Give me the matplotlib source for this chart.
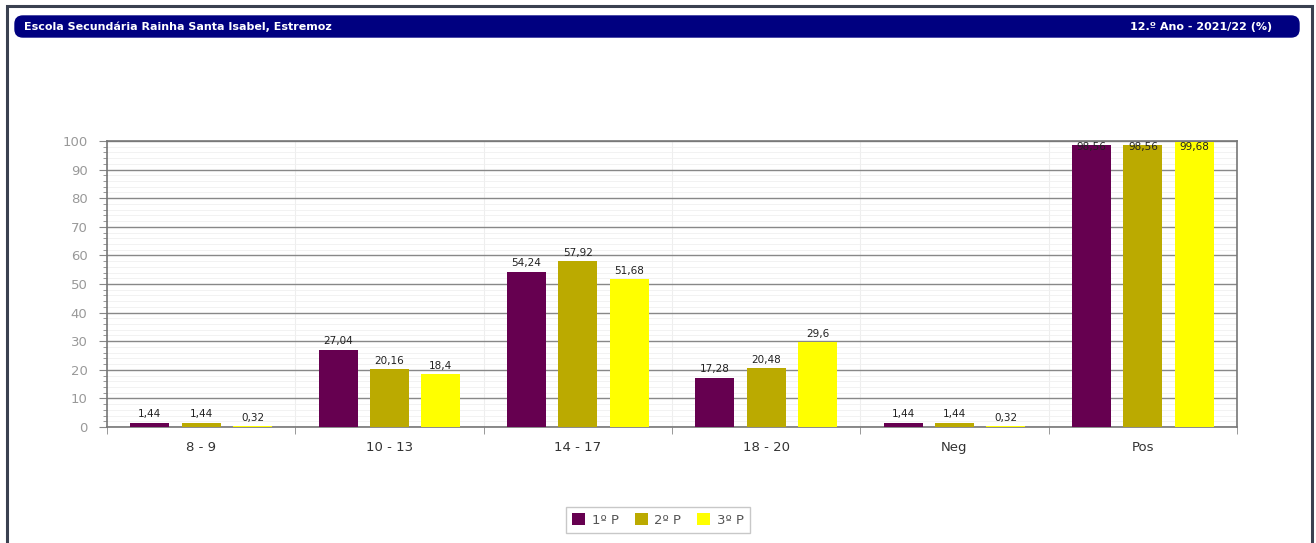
import matplotlib
matplotlib.use("Agg")
import matplotlib.pyplot as plt
import numpy as np
from matplotlib.patches import Rectangle, FancyBboxPatch
from matplotlib.ticker import MultipleLocator

categories = ["8 - 9", "10 - 13", "14 - 17", "18 - 20", "Neg", "Pos"]
series_names = ["1º P", "2º P", "3º P"]
p1 = [1.44, 27.04, 54.24, 17.28, 1.44, 98.56]
p2 = [1.44, 20.16, 57.92, 20.48, 1.44, 98.56]
p3 = [0.32, 18.4, 51.68, 29.6, 0.32, 99.68]
colors = ["#660050", "#bbaa00", "#ffff00"]
title_left = "Escola Secundária Rainha Santa Isabel, Estremoz"
title_right = "12.º Ano - 2021/22 (%)"

fig = plt.figure(figsize=(13.16, 5.43), dpi=100)
W, H = 1316, 543

def fx(x): return x / W
def fy(y): return 1 - y / H

# outer frame
fig.patches.append(Rectangle((fx(7), fy(560)), fx(1312) - fx(7), fy(6) - fy(560),
                             transform=fig.transFigure, fill=False,
                             edgecolor="#3a4150", linewidth=2.2))
# title bar
fig.patches.append(FancyBboxPatch((fx(15), fy(37)), fx(1299) - fx(15), fy(16) - fy(37),
                                  boxstyle="round,pad=0,rounding_size=0.006",
                                  transform=fig.transFigure, facecolor="#000080",
                                  edgecolor="#000080", mutation_aspect=2.4))
fig.text(fx(24), fy(27), title_left, color="white", fontsize=8, fontweight="bold",
         va="center", ha="left")
fig.text(fx(1272), fy(27), title_right, color="white", fontsize=8, fontweight="bold",
         va="center", ha="right")

ax = fig.add_axes([fx(107), fy(427), fx(1237) - fx(107), fy(141) - fy(427)])
x = np.arange(len(categories))
offs = [-0.273, 0, 0.273]
bw = 0.207
series = [p1, p2, p3]
for s, o, c, n in zip(series, offs, colors, series_names):
    ax.bar(x + o, s, bw, color=c, label=n, zorder=3)
    for xi, v in zip(x + o, s):
        lab = f"{v:g}".replace(".", ",")
        if v > 95:
            ax.annotate(lab, xy=(xi, 100), xytext=(0, -0.5), textcoords="offset points",
                        ha="center", va="top", fontsize=7.5, color="#222222", zorder=4)
        else:
            ax.annotate(lab, xy=(xi, v), xytext=(0, 2.5), textcoords="offset points",
                        ha="center", va="bottom", fontsize=7.5, color="#222222", zorder=4)

ax.set_xlim(-0.5, len(categories) - 0.5)
ax.set_ylim(0, 100)
ax.yaxis.set_major_locator(MultipleLocator(10))
ax.yaxis.set_minor_locator(MultipleLocator(2))
ax.set_xticks(x)
ax.set_xticklabels(categories, fontsize=9.5, color="#333333")
ax.set_xticks(np.arange(-0.5, len(categories), 1), minor=True)
ax.tick_params(axis="x", which="major", length=0, pad=10)
ax.tick_params(axis="x", which="minor", length=5, color="#888888")
ax.tick_params(axis="y", which="major", labelsize=9.5, labelcolor="#999999",
               length=6, color="#888888", pad=8)
ax.tick_params(axis="y", which="minor", length=3, color="#888888")
ax.grid(axis="y", which="major", color="#888888", linewidth=1.0, zorder=1)
ax.grid(axis="y", which="minor", color="#f0f0f0", linewidth=0.6, zorder=0)
ax.grid(axis="x", which="minor", color="#eeeeee", linewidth=0.8, zorder=0)
for sp in ax.spines.values():
    sp.set_color("#777777")
    sp.set_linewidth(1.2)

leg = fig.legend(loc="center", bbox_to_anchor=(fx(658), fy(520)), ncol=3,
                 fontsize=9.5, frameon=True, fancybox=False, edgecolor="#bbbbbb",
                 handlelength=1.0, handleheight=1.0, handletextpad=0.5,
                 columnspacing=1.2, borderpad=0.45)
for t in leg.get_texts():
    t.set_color("#555555")

fig.savefig("out.png", dpi=100)
